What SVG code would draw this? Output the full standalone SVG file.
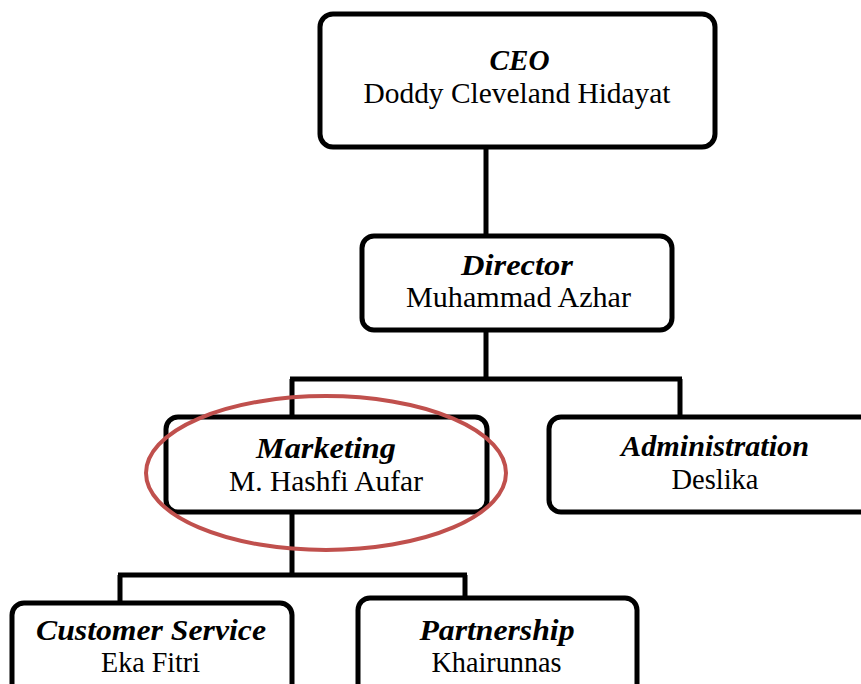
<svg xmlns="http://www.w3.org/2000/svg" width="861" height="684" viewBox="0 0 861 684">
<style>
.box{fill:#fff;stroke:#000;stroke-width:5}
.ln{fill:none;stroke:#000;stroke-width:5}
.t{font-size:30px;fill:#000;text-anchor:middle}
.b{font-weight:bold;font-style:italic}
</style>
<rect width="861" height="684" fill="#fff"/>
<g id="connectors">
<path class="ln" d="M486 147V236"/>
<path class="ln" d="M486 330V379M290 379H682M292 379V417M680 379V417"/>
<path class="ln" d="M292 512V575M118 575H467M120 575V603M465 575V605"/>
</g>
<g font-family="Liberation Serif, Times New Roman, serif">
<g id="ceo">
<rect class="box" x="320" y="14" width="395" height="133" rx="13"/>
<text class="t b" x="519.5" y="69.5" textLength="60" lengthAdjust="spacingAndGlyphs">CEO</text>
<text class="t" x="517" y="102.5" textLength="307" lengthAdjust="spacingAndGlyphs">Doddy Cleveland Hidayat</text>
</g>
<g id="director">
<rect class="box" x="362" y="236" width="310" height="94" rx="12"/>
<text class="t b" x="517" y="275" textLength="112" lengthAdjust="spacingAndGlyphs">Director</text>
<text class="t" x="518.5" y="307" textLength="225" lengthAdjust="spacingAndGlyphs">Muhammad Azhar</text>
</g>
<g id="marketing">
<rect class="box" x="166" y="417" width="321" height="95" rx="12"/>
<text class="t b" x="326" y="458" textLength="140" lengthAdjust="spacingAndGlyphs">Marketing</text>
<text class="t" x="326" y="491" textLength="194" lengthAdjust="spacingAndGlyphs">M. Hashfi Aufar</text>
</g>
<g id="administration">
<rect class="box" x="549" y="417" width="330" height="95" rx="12"/>
<text class="t b" x="715" y="456" textLength="188" lengthAdjust="spacingAndGlyphs">Administration</text>
<text class="t" x="715" y="489" textLength="87" lengthAdjust="spacingAndGlyphs">Deslika</text>
</g>
<g id="customer-service">
<rect class="box" x="12" y="603" width="280" height="110" rx="12"/>
<text class="t b" x="151" y="640" textLength="230" lengthAdjust="spacingAndGlyphs">Customer Service</text>
<text class="t" x="150.5" y="672" textLength="99" lengthAdjust="spacingAndGlyphs">Eka Fitri</text>
</g>
<g id="partnership">
<rect class="box" x="358" y="598" width="279" height="115" rx="12"/>
<text class="t b" x="497" y="640" textLength="155" lengthAdjust="spacingAndGlyphs">Partnership</text>
<text class="t" x="496.5" y="672" textLength="130" lengthAdjust="spacingAndGlyphs">Khairunnas</text>
</g>
</g>
<ellipse cx="326" cy="473" rx="180" ry="77" fill="none" stroke="#C0504D" stroke-width="4"/>
</svg>
